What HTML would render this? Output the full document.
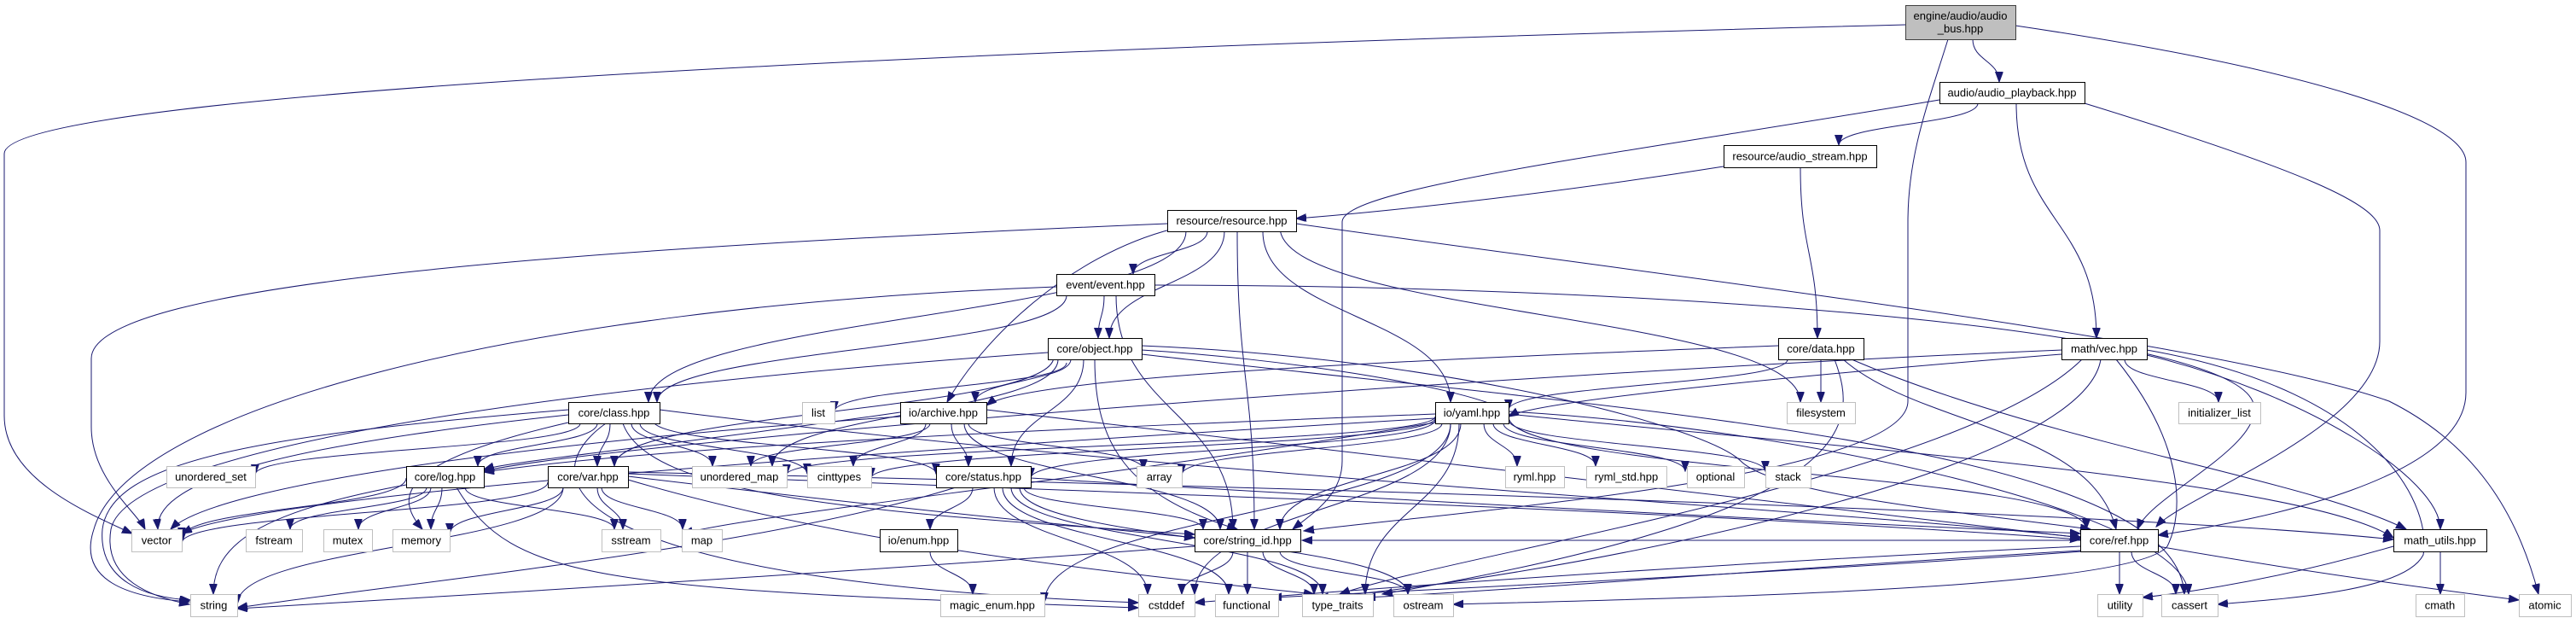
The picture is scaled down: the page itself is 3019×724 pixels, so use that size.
<!DOCTYPE html>
<html><head><meta charset="utf-8"><style>
html,body{margin:0;padding:0;background:#fff;}
svg{display:block;}
text{font-family:"Liberation Sans",Arial,sans-serif;font-size:13px;fill:#000;}
</style></head><body>
<svg id="g" width="3019" height="724" viewBox="0 0 3019 724" xmlns="http://www.w3.org/2000/svg">
<defs><marker id="a" markerWidth="13" markerHeight="10" refX="12" refY="4.5" orient="auto" markerUnits="userSpaceOnUse"><path d="M0,0 L12,4.5 L0,9 z" fill="#191970" stroke="#191970"/></marker></defs>
<g id="edges" fill="none" stroke="#191970" stroke-width="1"></g>
<g id="nodes"></g>
</svg>
<script>
var NS="http://www.w3.org/2000/svg";
var nodes=[
["engine/audio/audio|_bus.hpp",2233,6,2362,46,2],
["audio/audio_playback.hpp",2273,96,2443,121,1],
["resource/audio_stream.hpp",2020,170,2199,196,1],
["resource/resource.hpp",1368,246,1519,271,1],
["event/event.hpp",1238,321,1353,346,1],
["core/object.hpp",1228,396,1338,421,1],
["core/data.hpp",2084,396,2184,421,1],
["math/vec.hpp",2416,396,2516,421,1],
["core/class.hpp",666,471,773,496,1],
["list",940,471,978,496,0],
["io/archive.hpp",1055,471,1156,496,1],
["io/yaml.hpp",1682,471,1768,496,1],
["filesystem",2094,471,2174,496,0],
["initializer_list",2553,471,2649,496,0],
["unordered_set",195,546,299,571,0],
["core/log.hpp",476,546,567,571,1],
["core/var.hpp",642,546,736,571,1],
["unordered_map",811,546,922,571,0],
["cinttypes",946,546,1021,571,0],
["core/status.hpp",1097,546,1208,571,1],
["array",1332,546,1385,571,0],
["ryml.hpp",1764,546,1833,571,0],
["ryml_std.hpp",1859,546,1953,571,0],
["optional",1977,546,2044,571,0],
["stack",2069,546,2122,571,0],
["vector",154,620,213,646,0],
["fstream",288,620,354,646,0],
["mutex",379,620,436,646,0],
["memory",460,620,527,646,0],
["sstream",705,620,774,646,0],
["map",799,620,846,646,0],
["io/enum.hpp",1031,620,1122,646,1],
["core/string_id.hpp",1400,620,1524,646,1],
["core/ref.hpp",2438,620,2529,646,1],
["math_utils.hpp",2805,620,2914,646,1],
["string",223,696,278,722,0],
["magic_enum.hpp",1102,696,1224,722,0],
["cstddef",1334,696,1400,722,0],
["functional",1424,696,1498,722,0],
["type_traits",1526,696,1609,722,0],
["ostream",1633,696,1703,722,0],
["utility",2458,696,2511,722,0],
["cassert",2533,696,2599,722,0],
["cmath",2831,696,2888,722,0],
["atomic",2952,696,3013,722,0]
];
var ng=document.getElementById("nodes");
nodes.forEach(function(n){
 var r=document.createElementNS(NS,"rect");
 r.setAttribute("x",n[1]+.5);r.setAttribute("y",n[2]+.5);
 r.setAttribute("width",n[3]-n[1]);r.setAttribute("height",n[4]-n[2]);
 r.setAttribute("fill",n[5]==2?"#bfbfbf":"#fff");
 r.setAttribute("stroke",n[5]==2?"#404040":(n[5]==1?"#000":"#bfbfbf"));
 ng.appendChild(r);
 var lines=n[0].split("|");var cx=(n[1]+n[3])/2,cy=(n[2]+n[4])/2;
 lines.forEach(function(l,i){
  var t=document.createElementNS(NS,"text");
  t.setAttribute("x",cx);t.setAttribute("text-anchor","middle");
  t.setAttribute("y",cy+4.5+(i-(lines.length-1)/2)*15);
  t.textContent=l;ng.appendChild(t);
 });
});
var eg=document.getElementById("edges");
function P(d){var p=document.createElementNS(NS,"path");p.setAttribute("d",d);p.setAttribute("marker-end","url(#a)");eg.appendChild(p);}
function E(x1,y1,x2,y2){var dy=(y2-y1)*0.5;P("M"+x1+","+y1+" C"+x1+","+(y1+dy)+" "+x2+","+(y2-dy)+" "+x2+","+y2);}
P("M2233,29 C1400,50 5,100 5,180 L5,487 C5,560 100,600 155,625");
E(2312,46,2343,96);
P("M2283,46 C2260,120 2236,180 2236,260 L2236,470 C2236,560 1700,600 1528,622");
P("M2362,30 C2700,80 2890,140 2890,190 L2890,460 C2890,560 2650,610 2529,627");
P("M2273,117 C1900,180 1573,220 1573,260 L1573,540 C1573,580 1540,600 1515,620");
E(2318,121,2155,170);E(2363,121,2457,396);
P("M2443,121 C2700,200 2789,240 2789,270 L2789,400 C2789,500 2560,580 2527,617");
P("M2020,195 C1800,230 1600,250 1519,256");
E(2110,196,2130,396);
P("M1368,262 C700,290 107,330 107,420 L107,500 C107,560 160,600 170,620");
E(1415,271,1328,321);E(1390,271,760,471);
P("M1375,268 C1250,300 1150,400 1110,471");
E(1435,271,1300,396);E(1450,271,1470,620);E(1480,271,1700,471);E(1500,266,2110,471);
P("M1519,262 C2000,330 2600,400 2800,470 C2900,520 2950,600 2975,696");
P("M1238,336 C600,360 150,480 110,620 C90,680 150,700 222,705");
E(1250,346,770,471);E(1294,346,1287,396);E(1308,346,1445,620);
P("M1353,334 C1900,334 2600,380 2640,470 C2660,520 2520,580 2505,620");
P("M1228,413 C700,450 150,520 130,620 C120,680 180,700 222,708");
E(1250,425,978,482);E(1255,421,1143,471);E(1240,421,905,546);E(1235,418,720,546);E(1270,421,1185,546);
P("M1283,421 C1283,520 1320,580 1450,620");
P("M1338,410 C1500,420 1700,450 1765,480");
P("M1338,405 C1700,420 2000,500 2040,540 C2080,580 2300,600 2450,620");
P("M1338,415 C1900,480 2550,520 2560,696");
P("M2084,405 C1700,420 1200,440 1156,475");
E(2095,421,1768,480);E(2134,421,2134,471);
P("M2150,421 C2180,500 2180,600 1620,696");
P("M2160,421 C2250,500 2450,500 2480,620");
P("M2170,421 C2400,520 2700,560 2820,620");
P("M2416,410 C1700,440 700,520 567,552");
P("M2416,415 C2100,440 1800,470 1768,488");
P("M2440,421 C2300,560 1700,650 1570,696");
P("M2462,421 C2440,560 1800,680 1545,700");
E(2490,421,2600,471);
P("M2480,421 C2560,520 2560,600 2540,640 C2500,690 2000,700 1703,708");
P("M2516,416 C2700,460 2860,560 2860,620");
P("M2516,410 C2800,460 2850,600 2840,650 C2820,690 2700,700 2599,708");
E(680,496,299,556);E(700,496,560,546);E(715,496,700,546);E(740,496,835,546);E(750,496,946,555);E(765,492,1097,555);
P("M666,486 C350,520 180,560 185,620");
P("M666,480 C300,510 130,540 120,620 C115,680 170,700 223,703");
P("M666,495 C470,540 460,580 495,620");
P("M730,496 C760,580 1000,600 1400,626");
P("M773,480 C1400,560 2200,600 2438,630");
P("M710,496 C620,560 650,680 1334,706");
P("M1055,483 C800,520 600,540 567,550");
P("M1055,488 C600,520 250,570 200,620");
E(1090,496,880,546);E(1085,496,1000,546);E(1115,496,1135,546);E(1135,496,1340,550);E(1130,496,1430,620);
P("M1156,480 C1700,540 2200,600 2440,630");
P("M1682,485 C1300,500 800,520 567,553");
P("M1682,490 C1000,530 300,580 213,625");
E(1682,488,922,556);E(1682,490,1021,560);E(1682,492,1208,560);E(1690,496,1385,556);
E(1739,496,1778,546);E(1750,496,1870,546);E(1762,496,1975,552);E(1768,492,2069,552);
E(1712,496,1500,620);E(1710,496,1600,696);E(1700,496,1400,696);
E(1768,488,2445,620);
P("M1768,485 C2100,520 2700,560 2805,630");
P("M1768,482 C2100,500 2560,600 2565,696");
P("M1682,495 C1300,560 900,600 800,625");
E(1700,496,1224,706);
E(476,560,213,630);
P("M476,568 C300,600 250,640 250,696");
E(500,571,340,620);E(505,571,420,620);E(518,571,505,620);E(545,571,720,620);
P("M535,571 C600,680 700,690 1334,712");
E(642,565,213,636);E(660,571,278,708);E(660,571,527,625);E(700,571,730,620);E(705,571,800,620);
P("M736,558 C1000,590 1200,610 1400,630");
P("M736,555 C1400,580 2000,600 2438,632");
P("M736,553 C1500,570 2500,600 2805,632");
P("M736,562 C1000,640 1300,670 1540,696");
E(1140,571,1090,620);
P("M1120,571 C900,640 500,680 278,712");
E(1200,571,1410,620);E(1165,571,1345,696);E(1175,571,1440,696);E(1185,571,1550,696);E(1195,571,1650,696);
P("M1208,560 C1700,590 2100,610 2438,625");
E(1090,646,1140,696);
P("M1400,640 C1000,670 500,700 278,713");
E(1445,646,1385,696);E(1462,646,1462,696);E(1480,646,1540,696);E(1500,646,1650,696);
P("M2438,633 L1526,633");
P("M2438,640 C2000,660 1600,690 1400,706");
P("M2438,645 C2100,665 1800,690 1600,700");
P("M2440,646 C2100,670 1700,690 1490,700");
E(2484,646,2484,696);E(2498,646,2550,696);
P("M2529,640 C2700,670 2850,690 2952,703");
P("M2805,640 C2700,670 2600,690 2511,700");
E(2860,646,2860,696);
</script>
</body></html>
